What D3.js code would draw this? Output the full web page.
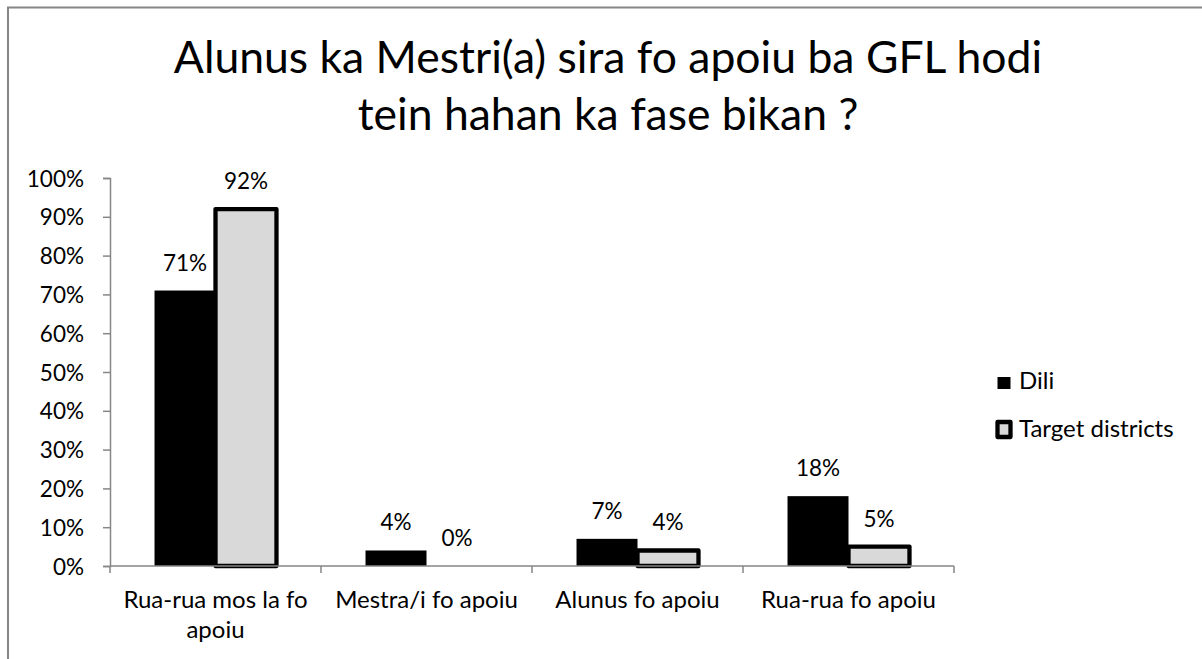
<!DOCTYPE html>
<html>
<head>
<meta charset="utf-8">
<script src="https://cdn.jsdelivr.net/npm/d3@7"></script>
<style>
	body { margin: 0; background: #fff; }
	svg { display: block; font-family: Lato, "Open Sans", sans-serif; }
</style>
</head>
<body>
<div id="chart"></div>
<script>
// chart data
const categories = ["Rua-rua mos la fo apoiu", "Mestra/i fo apoiu", "Alunus fo apoiu", "Rua-rua fo apoiu"];
const series = ["Dili", "Target districts"];
const dili = [0.71, 0.04, 0.07, 0.18];
const target = [0.92, 0.00, 0.04, 0.05];
const yTicks = [0, 0.1, 0.2, 0.3, 0.4, 0.5, 0.6, 0.7, 0.8, 0.9, 1.0];
const titleLines = ["Alunus ka Mestri(a) sira fo apoiu ba GFL hodi", "tein hahan ka fase bikan ?"];

const width = 1202, height = 659;
const margin = {left: 110, right: 248, top: 178, bottom: 93};
const axisGray = "#868686";
const numSize = "22.5px", textSize = "24px";

let svg = d3.select("#chart").append("svg")
	.attr("width", width).attr("height", height);

// outer frame of the chart object
svg.append("path")
	.attr("d", "M8," + height + " L8,7.5 L" + width + ",7.5")
	.attr("fill", "none").attr("stroke", axisGray).attr("stroke-width", 2);

// title
svg.append("g").selectAll("text")
	.data(titleLines).enter()
	.append("text")
	.attr("x", 608)
	.attr("y", function (d, i) { return 73 + i * 57; })
	.attr("text-anchor", "middle")
	.style("font-size", "44.5px")
	.attr("fill", "#000")
	.text(function (d) { return d; });

let x0 = d3.scaleBand().domain(categories)
	.range([margin.left, width - margin.right]).padding(0);
let x1 = d3.scaleBand().domain(series)
	.range([0, x0.bandwidth()]).paddingInner(0).paddingOuter(0.73);
let y = d3.scaleLinear().domain([0, 1])
	.range([height - margin.bottom, margin.top]);

// y axis
let yAxis = svg.append("g")
	.attr("transform", "translate(" + margin.left + ",0)")
	.call(d3.axisLeft(y).tickValues(yTicks).tickFormat(d3.format(".0%")).tickSize(7).tickPadding(19));
yAxis.select(".domain").attr("stroke", axisGray).attr("stroke-width", 1.5);
yAxis.selectAll(".tick line").attr("stroke", axisGray).attr("stroke-width", 1.5);
yAxis.selectAll(".tick text")
	.style("font-family", "Lato, sans-serif")
	.style("font-size", numSize).attr("fill", "#000").attr("dy", "0.36em");

// bars
let groups = svg.append("g").selectAll("g")
	.data(categories).enter()
	.append("g")
	.attr("transform", function (d) { return "translate(" + x0(d) + ",0)"; });

groups.append("rect")
	.attr("class", "bar_dili")
	.attr("x", x1("Dili"))
	.attr("width", x1.bandwidth())
	.attr("y", function (d, i) { return y(dili[i]); })
	.attr("height", function (d, i) { return y(0) - y(dili[i]); })
	.attr("fill", "#000");

groups.append("rect")
	.attr("class", "bar_target")
	.attr("x", x1("Target districts"))
	.attr("width", x1.bandwidth())
	.attr("y", function (d, i) { return y(target[i]); })
	.attr("height", function (d, i) { return y(0) - y(target[i]); })
	.attr("fill", "#d9d9d9")
	.attr("stroke", function (d, i) { return target[i] > 0 ? "#000" : "none"; })
	.attr("stroke-width", 4.3)
	.attr("stroke-linejoin", "round");

// x axis (drawn after bars so the baseline sits on top)
let xAxisG = svg.append("g").attr("transform", "translate(0," + y(0) + ")");
xAxisG.append("line")
	.attr("x1", margin.left).attr("x2", width - margin.right)
	.attr("stroke", axisGray).attr("stroke-width", 1.5);
let boundaries = categories.map(function (d) { return x0(d); }).concat([x0(categories[3]) + x0.bandwidth()]);
xAxisG.selectAll(".xtick")
	.data(boundaries).enter()
	.append("line").attr("class", "xtick")
	.attr("x1", function (d) { return d; }).attr("x2", function (d) { return d; })
	.attr("y1", 0).attr("y2", 7)
	.attr("stroke", axisGray).attr("stroke-width", 1.5);

// category labels, wrapped like the original
let catLines = {
	"Rua-rua mos la fo apoiu": ["Rua-rua mos la fo", "apoiu"]
};
groups.append("text")
	.attr("text-anchor", "middle")
	.style("font-size", textSize)
	.attr("fill", "#000")
	.each(function (d) {
		let lines = catLines[d] || [d];
		let t = d3.select(this);
		lines.forEach(function (l, i) {
			t.append("tspan")
				.attr("x", x0.bandwidth() / 2)
				.attr("y", 608 + i * 30)
				.text(l);
		});
	});

// value labels
groups.append("text")
	.attr("text-anchor", "middle")
	.attr("x", x1("Dili") + x1.bandwidth() / 2)
	.attr("y", function (d, i) { return y(dili[i]) - 20; })
	.style("font-size", numSize)
	.text(function (d, i) { return d3.format(".0%")(dili[i]); });
groups.append("text")
	.attr("text-anchor", "middle")
	.attr("x", x1("Target districts") + x1.bandwidth() / 2)
	.attr("y", function (d, i) { return y(target[i]) - 20; })
	.style("font-size", numSize)
	.text(function (d, i) { return d3.format(".0%")(target[i]); });

// legend
let legend = svg.append("g").attr("transform", "translate(997,0)");
legend.append("rect")
	.attr("x", 0.5).attr("y", 377).attr("width", 13).attr("height", 12)
	.attr("fill", "#000");
legend.append("rect")
	.attr("x", 0.5).attr("y", 422).attr("width", 13).attr("height", 15)
	.attr("fill", "#d9d9d9").attr("stroke", "#000").attr("stroke-width", 4.3)
	.attr("stroke-linejoin", "round");
legend.selectAll(".legend_text")
	.data(series).enter()
	.append("text").attr("class", "legend_text")
	.attr("x", 22)
	.attr("y", function (d, i) { return 389 + i * 48; })
	.style("font-size", textSize)
	.text(function (d) { return d; });
</script>
</body>
</html>
